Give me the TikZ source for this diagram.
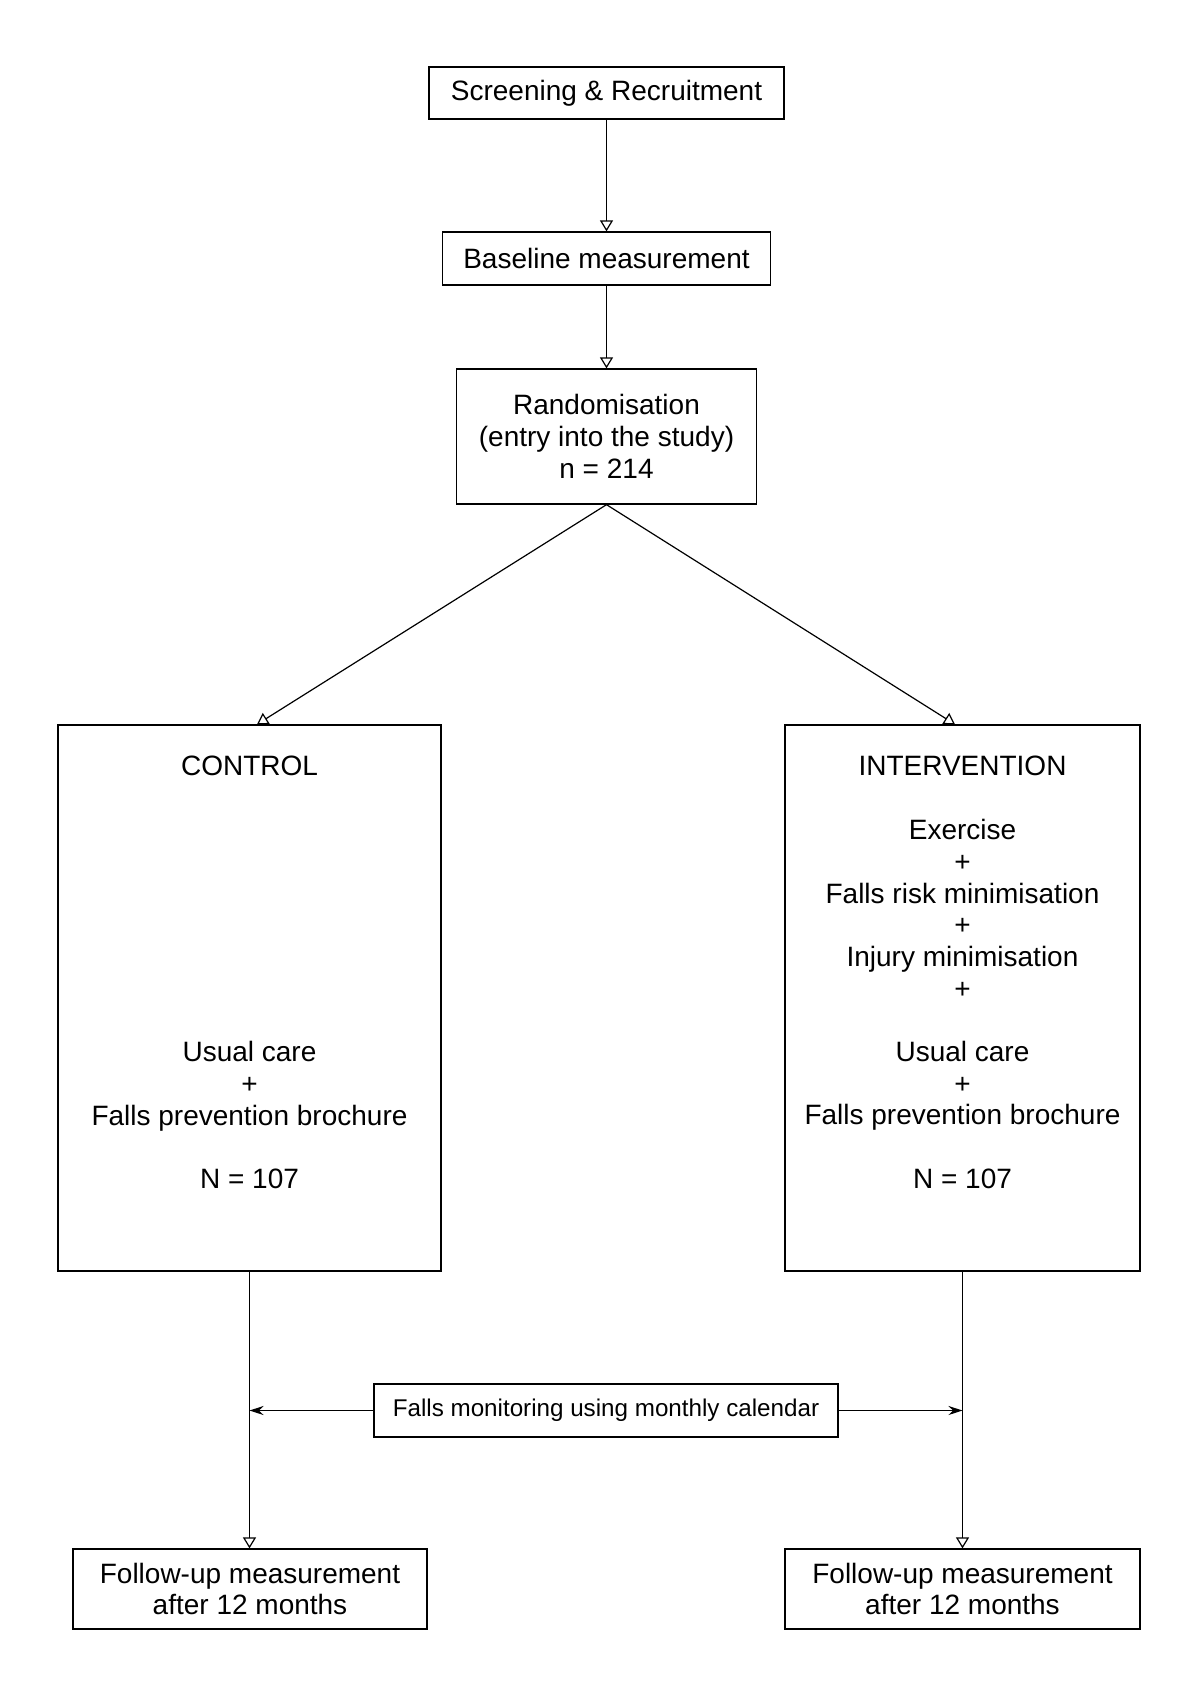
\documentclass[tikz,border=0pt]{standalone}
\usepackage{fontspec}
\setmainfont{Liberation Sans}
\usetikzlibrary{arrows.meta,calc}
\begin{document}
\begin{tikzpicture}[x=0.5pt,y=-0.5pt,
  box/.style={draw, line width=0.65pt, inner sep=0pt, align=center, font=\fontsize{14}{15.85}\selectfont},
  txt/.style={inner sep=0pt, align=center, font=\fontsize{14}{15.85}\selectfont},
  conn/.style={line width=0.6pt},
  oarr/.style={conn, -{Triangle[open,length=5.5pt,width=6.5pt]}},
  farr/.style={conn, -{Stealth[length=7pt,width=4.5pt]}}]
\useasboundingbox[fill=white] (0,0) rectangle (1200,1698);

\node[box, minimum width=177.5pt, minimum height=26pt] (scr) at (606.5,93) {Screening \& Recruitment};
\node[box, minimum width=164pt, minimum height=26.5pt] (base) at (606.5,258.5) {Baseline measurement};
\node[box, minimum width=150pt, minimum height=67.5pt] (rand) at (606.5,436.5) {Randomisation\\(entry into the study)\\n = 214};

\node[box, minimum width=191.5pt, minimum height=273pt] (ctrl) at (249.5,998) {};
\node[box, minimum width=177.5pt, minimum height=273pt] (int) at (962.5,998) {};

\node[txt] (ctrltitle) at (249.5,766) {CONTROL};
\node[txt] (ctrlbody) at (249.5,1115) {Usual care\\+\\Falls prevention brochure\\\mbox{}\\N = 107};
\node[txt] (inttitle) at (962.5,766) {INTERVENTION};
\node[txt] (intbody) at (962.5,1004) {Exercise\\+\\Falls risk minimisation\\+\\Injury minimisation\\+\\\mbox{}\\Usual care\\+\\Falls prevention brochure\\\mbox{}\\N = 107};

\node[box, minimum width=232pt, minimum height=26.5pt, font=\fontsize{12.1}{14}\selectfont] (mon) at (606,1410.5) {Falls monitoring using monthly calendar};

\node[box, minimum width=177pt, minimum height=40pt] (fu1) at (250,1589) {Follow-up measurement\\after 12 months};
\node[box, minimum width=177.5pt, minimum height=40pt] (fu2) at (962.5,1589) {Follow-up measurement\\after 12 months};

\draw[oarr] (scr.south) -- (scr.south |- base.north);
\draw[oarr] (base.south) -- (base.south |- rand.north);
\draw[oarr] (rand.south) -- ($(ctrl.north)+(7.5,0)$);
\draw[oarr] (rand.south) -- ($(int.north)+(-7.5,0)$);
\draw[oarr] (ctrl.south) -- (ctrl.south |- fu1.north);
\draw[oarr] (int.south) -- (int.south |- fu2.north);
\draw[farr] (mon.west) -- (mon.west -| ctrl.south);
\draw[farr] (mon.east) -- (mon.east -| int.south);
\end{tikzpicture}
\end{document}
